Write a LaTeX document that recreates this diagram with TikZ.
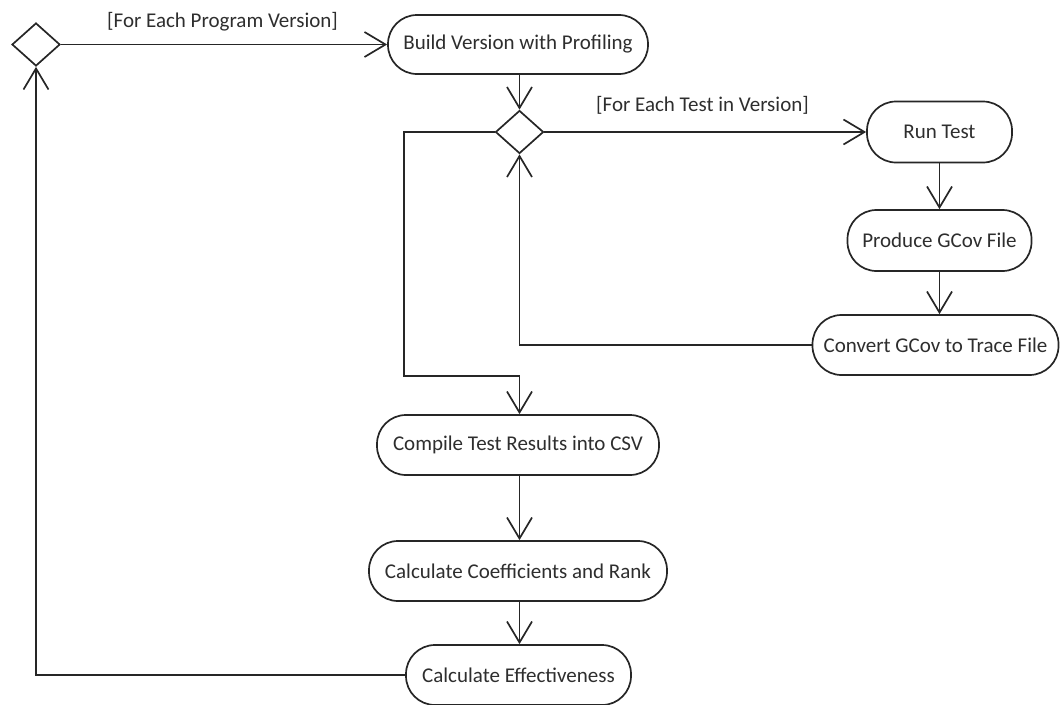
\documentclass[tikz,border=0pt]{standalone}
\usepackage{fontspec}
\setmainfont{Carlito}
\usetikzlibrary{shapes.geometric,arrows.meta}
\definecolor{linec}{HTML}{262626}
\definecolor{textc}{HTML}{2E2E2E}
\begin{document}
\begin{tikzpicture}[x=1pt,y=-1pt,
  every node/.style={font=\fontsize{21}{25}\selectfont, text=textc},
  act/.style={draw=linec, line width=1.7pt, rectangle, rounded corners=29pt, minimum height=60pt, inner sep=0pt, fill=white},
  dec/.style={draw=linec, line width=1.7pt, diamond, inner sep=0pt, minimum width=48pt, minimum height=43pt, fill=white},
  flow/.style={draw=linec, line width=1.7pt, -{Straight Barb[length=21pt,width=25pt,line width=1.7pt]}},
  guard/.style={anchor=west, inner sep=0pt}]
\useasboundingbox (0,0) rectangle (1060,704);
% decisions
\node[dec] (d1) at (36,44.5) {};
\node[dec] (d2) at (519.5,132) {};
% activities
\node[act, minimum width=260pt, minimum height=59pt] (build) at (518,44.5) {Build Version with Profiling};
\node[act, minimum width=145pt, minimum height=61pt] (run) at (939.5,132) {Run Test};
\node[act, minimum width=184pt, minimum height=61pt] (produce) at (939.5,240.5) {Produce GCov File};
\node[act, minimum width=246pt, minimum height=60pt] (convert) at (935.5,345) {Convert GCov to Trace File};
\node[act, minimum width=282pt] (compile) at (518,445) {Compile Test Results into CSV};
\node[act, minimum width=298pt] (coeff) at (518,571) {Calculate Coefficients and Rank};
\node[act, minimum width=225pt] (eff) at (518.5,675) {Calculate Effectiveness};
% guards
\node[guard] (g1) at (107,22) {[For Each Program Version]};
\node[guard] (g2) at (596,105) {[For Each Test in Version]};
% helper coordinates
\coordinate (l1) at (404,132);
\coordinate (l2) at (404,376);
\coordinate (l3) at (519.5,376);
\coordinate (b1) at (36,675);
% connectors
\draw[flow] (d1.east) -- (build.west);
\draw[flow] (build.south -| d2.north) -- (d2.north);
\draw[flow] (d2.east) -- (run.west);
\draw[flow] (run.south) -- (run.south |- produce.north);
\draw[flow] (produce.south) -- (produce.south |- convert.north);
\draw[flow] (convert.west) -- (convert.west -| d2.south) -- (d2.south);
\draw[flow] (d2.west) -- (l1) -- (l2) -- (l3) -- (l3 |- compile.north);
\draw[flow] (compile.south -| l3) -- (l3 |- coeff.north);
\draw[flow] (coeff.south -| l3) -- (l3 |- eff.north);
\draw[flow] (eff.west) -- (b1) -- (d1.south);
\end{tikzpicture}
\end{document}
